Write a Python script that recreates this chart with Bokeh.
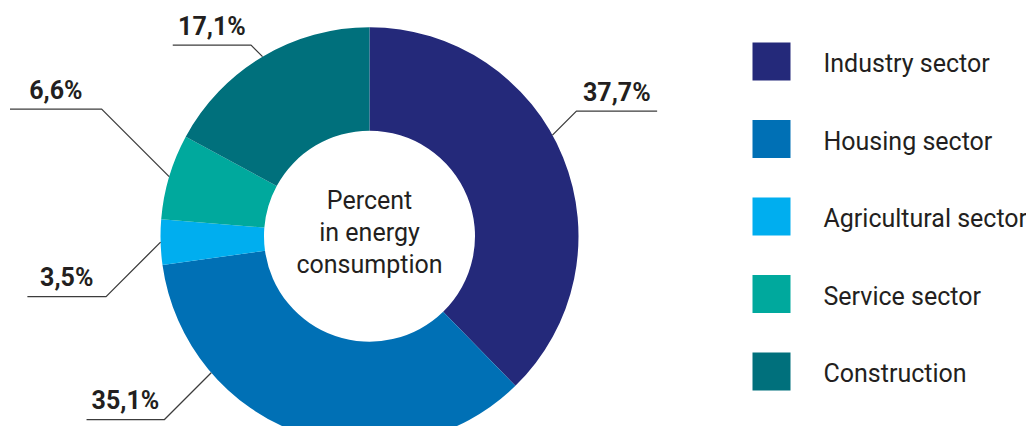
import math
import numpy as np
from bokeh.plotting import figure
from bokeh.models import Range1d, ColumnDataSource
from bokeh.core.properties import value
from bokeh.embed import file_html
from bokeh.resources import INLINE

# ---------------- data ----------------
sectors = ["Industry sector", "Housing sector", "Agricultural sector", "Service sector", "Construction"]
shares = [37.7, 35.1, 3.5, 6.6, 17.1]
share_labels = ["37,7%", "35,1%", "3,5%", "6,6%", "17,1%"]
colors = ["#24297A", "#0070B5", "#00AEEF", "#00A99D", "#00707C"]
center_lines = ["Percent", "in energy", "consumption"]

# ---------------- layout (pixels) ----------------
W, H = 1026, 426
CX, CY = 369.0, 235.7          # donut centre (pixels, y down)
R_OUT, R_IN = 209.0, 105.5
leader_pos = [0.45, 0.74, 0.5, 0.5, 0.5]   # where along each slice the leader starts
leader_diag = [24, 47, 54.5, 67.5, 11.5]
leader_horiz = [80.7, 77.7, 78.7, 91.7, 78.3]
TEXT_COLOR = "#231F20"
FONT = "Roboto"
TXT_SHIFT = 8   # correction of rendered baseline

p = figure(width=W, height=H, x_range=Range1d(0, W), y_range=Range1d(-H, 0),
           output_backend="svg", toolbar_location=None, min_border=0)
p.axis.visible = False
p.grid.visible = False
p.outline_line_color = None
p.background_fill_color = "white"
p.border_fill_color = "white"

fr = np.array(shares) / sum(shares)
cum = np.concatenate([[0.0], np.cumsum(fr)])
start = math.pi / 2 - 2 * math.pi * cum[:-1]
end = math.pi / 2 - 2 * math.pi * cum[1:]
src = ColumnDataSource(dict(start=start, end=end, color=colors,
                            x=[CX] * len(shares), y=[-CY] * len(shares)))
p.annular_wedge(x="x", y="y", inner_radius=R_IN, outer_radius=R_OUT,
                start_angle="start", end_angle="end", direction="clock",
                fill_color="color", line_color=None, source=src)

# leaders + labels
xs, ys, tx, ty = [], [], [], []
for i in range(len(shares)):
    th = 2 * math.pi * (cum[i] + leader_pos[i] * fr[i])  # clockwise from top
    ax = CX + R_OUT * math.sin(th)
    ay = CY - R_OUT * math.cos(th)
    side = 1 if math.sin(th) > 0 else -1
    vdir = 1 if math.cos(th) > 0 else -1
    ex = ax + side * leader_diag[i]
    ey = ay - vdir * leader_diag[i]
    hx = ex + side * leader_horiz[i]
    xs.append([ax, ex, hx])
    ys.append([-ay, -ey, -ey])
    tx.append((ex + hx) / 2)
    ty.append(-(ey - 11 - TXT_SHIFT))
p.multi_line(xs=xs, ys=ys, line_color="#3C3C3C", line_width=1.3)
p.text(x=tx, y=ty, text=share_labels, text_align="center", text_baseline="alphabetic",
       text_font=value(FONT), text_font_style="bold", text_font_size="25px", text_color=TEXT_COLOR)

# centre text
p.text(x=[CX] * 3, y=[-(CY - 28 - TXT_SHIFT), -(CY + 4 - TXT_SHIFT), -(CY + 36 - TXT_SHIFT)],
       text=center_lines, text_align="center", text_baseline="alphabetic", text_font=value(FONT),
       text_font_size="25px", text_color=TEXT_COLOR)

# legend
LX, LY0, LSTEP, LSIZE = 771.0, 61.0, 77.5, 38
ly = [-(LY0 + i * LSTEP) for i in range(len(sectors))]
p.rect(x=[LX] * len(sectors), y=ly, width=LSIZE, height=LSIZE, fill_color=colors, line_color=None)
p.text(x=[823] * len(sectors), y=[v - 10 + TXT_SHIFT for v in ly], text=sectors, text_align="left",
       text_baseline="alphabetic", text_font=value(FONT), text_font_size="25px", text_color=TEXT_COLOR)

open("out.html", "w").write(file_html(p, INLINE))
